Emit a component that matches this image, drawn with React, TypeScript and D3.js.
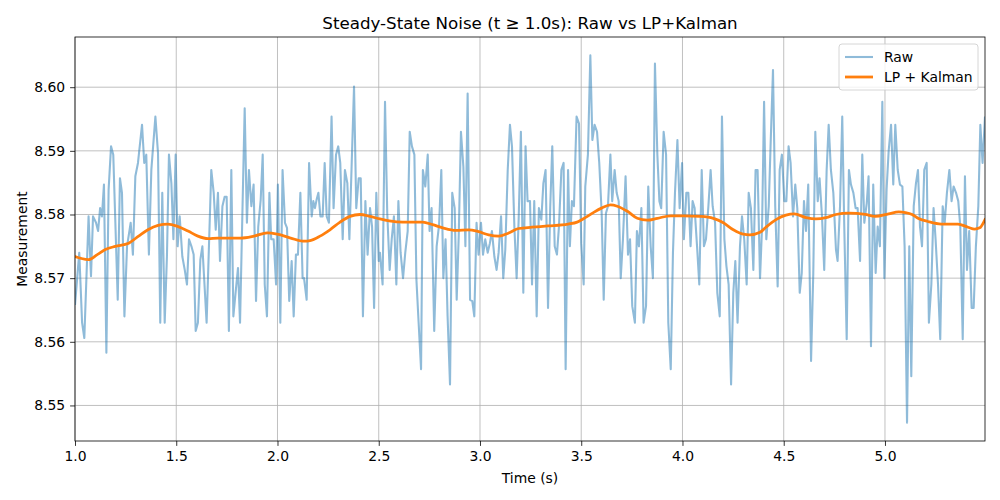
import * as React from "react";
import { useEffect, useRef } from "react";
import * as d3 from "d3";

// raw samples (time, value)
const rawT = [
  1.0, 1.021, 1.035, 1.046, 1.067, 1.079, 1.089, 1.104, 1.114, 1.124, 1.133, 1.143, 1.155, 1.166, 1.178, 1.189,
  1.211, 1.222, 1.232, 1.244, 1.257, 1.275, 1.286, 1.298, 1.311, 1.331, 1.342, 1.352, 1.365, 1.377, 1.397, 1.41,
  1.421, 1.431, 1.443, 1.454, 1.464, 1.476, 1.486, 1.497, 1.507, 1.517, 1.53, 1.542, 1.553, 1.563, 1.575, 1.586,
  1.596, 1.607, 1.619, 1.629, 1.65, 1.673, 1.685, 1.695, 1.706, 1.716, 1.728, 1.739, 1.749, 1.76, 1.772, 1.782,
  1.793, 1.805, 1.815, 1.826, 1.838, 1.849, 1.859, 1.871, 1.882, 1.894, 1.905, 1.917, 1.927, 1.937, 1.948, 1.96,
  1.969, 1.981, 1.993, 2.002, 2.014, 2.025, 2.037, 2.047, 2.058, 2.07, 2.08, 2.091, 2.101, 2.113, 2.124, 2.131,
  2.144, 2.156, 2.169, 2.177, 2.185, 2.193, 2.202, 2.212, 2.223, 2.233, 2.243, 2.254, 2.267, 2.277, 2.289, 2.3,
  2.31, 2.322, 2.333, 2.345, 2.355, 2.366, 2.378, 2.389, 2.401, 2.411, 2.422, 2.434, 2.445, 2.457, 2.467, 2.477,
  2.488, 2.5, 2.506, 2.519, 2.531, 2.542, 2.554, 2.564, 2.575, 2.587, 2.597, 2.608, 2.62, 2.631, 2.643, 2.653,
  2.664, 2.676, 2.686, 2.697, 2.709, 2.718, 2.73, 2.742, 2.751, 2.761, 2.774, 2.786, 2.798, 2.809, 2.819, 2.83,
  2.84, 2.852, 2.863, 2.875, 2.885, 2.895, 2.906, 2.918, 2.928, 2.939, 2.951, 2.962, 2.972, 2.983, 2.993, 3.005,
  3.015, 3.026, 3.038, 3.049, 3.059, 3.071, 3.082, 3.092, 3.104, 3.115, 3.125, 3.137, 3.148, 3.158, 3.17, 3.181,
  3.191, 3.202, 3.214, 3.225, 3.235, 3.247, 3.257, 3.268, 3.28, 3.291, 3.303, 3.313, 3.324, 3.336, 3.347, 3.357,
  3.369, 3.38, 3.39, 3.402, 3.413, 3.423, 3.435, 3.444, 3.454, 3.464, 3.477, 3.489, 3.5, 3.512, 3.52, 3.533,
  3.545, 3.555, 3.566, 3.578, 3.589, 3.601, 3.611, 3.622, 3.632, 3.644, 3.653, 3.665, 3.675, 3.685, 3.695, 3.706,
  3.719, 3.731, 3.741, 3.752, 3.765, 3.775, 3.785, 3.797, 3.808, 3.82, 3.831, 3.843, 3.854, 3.864, 3.876, 3.886,
  3.895, 3.907, 3.919, 3.93, 3.942, 3.953, 3.963, 3.975, 3.986, 3.998, 4.007, 4.019, 4.029, 4.04, 4.05, 4.06,
  4.072, 4.083, 4.095, 4.106, 4.116, 4.128, 4.139, 4.149, 4.161, 4.172, 4.184, 4.195, 4.207, 4.217, 4.228, 4.24,
  4.251, 4.261, 4.272, 4.284, 4.294, 4.305, 4.317, 4.327, 4.338, 4.35, 4.361, 4.371, 4.383, 4.393, 4.403, 4.414,
  4.426, 4.435, 4.447, 4.458, 4.47, 4.48, 4.491, 4.503, 4.513, 4.524, 4.534, 4.546, 4.557, 4.567, 4.579, 4.589,
  4.6, 4.61, 4.621, 4.635, 4.646, 4.656, 4.668, 4.677, 4.689, 4.7, 4.712, 4.722, 4.733, 4.745, 4.758, 4.766,
  4.778, 4.789, 4.799, 4.811, 4.822, 4.832, 4.844, 4.855, 4.865, 4.877, 4.888, 4.898, 4.91, 4.919, 4.931, 4.942,
  4.954, 4.964, 4.975, 4.987, 4.997, 5.008, 5.018, 5.03, 5.041, 5.051, 5.063, 5.074, 5.086, 5.097, 5.109, 5.12,
  5.13, 5.142, 5.153, 5.163, 5.173, 5.183, 5.194, 5.206, 5.217, 5.229, 5.24, 5.25, 5.262, 5.273, 5.285, 5.295,
  5.306, 5.318, 5.329, 5.339, 5.351, 5.362, 5.372, 5.384, 5.395, 5.405, 5.416, 5.428, 5.438, 5.449, 5.461, 5.471,
  5.482, 5.494,
];
const rawV = [
  8.5658, 8.574, 8.563, 8.5606, 8.5797, 8.5703, 8.5797, 8.5787, 8.5774, 8.581, 8.5797, 8.5847, 8.5583, 8.5839, 8.5907, 8.5894,
  8.5666, 8.5857, 8.5834, 8.564, 8.575, 8.5787, 8.5737, 8.586, 8.5881, 8.5941, 8.5881, 8.5894, 8.5737, 8.587, 8.5954, 8.5896,
  8.563, 8.5834, 8.563, 8.5734, 8.5894, 8.5849, 8.5761, 8.5894, 8.575, 8.5797, 8.5734, 8.5713, 8.569, 8.5761, 8.575, 8.5737,
  8.5617, 8.563, 8.5729, 8.575, 8.563, 8.587, 8.5834, 8.5776, 8.5834, 8.5727, 8.5813, 8.5828, 8.5828, 8.5617, 8.587, 8.564,
  8.5677, 8.5716, 8.563, 8.5792, 8.5967, 8.5787, 8.587, 8.5813, 8.5847, 8.5664, 8.5781, 8.5823, 8.5894, 8.569, 8.564, 8.5834,
  8.5761, 8.5761, 8.569, 8.5847, 8.563, 8.587, 8.5787, 8.5779, 8.5664, 8.5727, 8.564, 8.5737, 8.5737, 8.5834, 8.57, 8.57,
  8.5666, 8.5881, 8.5797, 8.5821, 8.581, 8.5823, 8.5834, 8.5797, 8.5797, 8.5881, 8.5797, 8.5787, 8.5954, 8.581, 8.5894, 8.5907,
  8.5881, 8.5761, 8.587, 8.5849, 8.5761, 8.5875, 8.6001, 8.581, 8.5857, 8.5857, 8.564, 8.5821, 8.5737, 8.581, 8.5781, 8.5653,
  8.5834, 8.5727, 8.574, 8.569, 8.5977, 8.5802, 8.5713, 8.5761, 8.5797, 8.569, 8.5821, 8.574, 8.57, 8.574, 8.5774, 8.593,
  8.5907, 8.5894, 8.5698, 8.563, 8.5557, 8.587, 8.5844, 8.5894, 8.5774, 8.581, 8.5617, 8.575, 8.5784, 8.587, 8.57, 8.5761,
  8.564, 8.5533, 8.5834, 8.581, 8.5666, 8.5766, 8.593, 8.5875, 8.575, 8.599, 8.5666, 8.5664, 8.564, 8.5787, 8.5737, 8.5787,
  8.5737, 8.5761, 8.574, 8.5755, 8.5774, 8.5734, 8.5713, 8.574, 8.5797, 8.57, 8.5745, 8.587, 8.5941, 8.5907, 8.5779, 8.57,
  8.5792, 8.593, 8.5677, 8.5907, 8.5821, 8.5821, 8.569, 8.5821, 8.564, 8.581, 8.5792, 8.5849, 8.587, 8.5653, 8.5813, 8.5907,
  8.575, 8.5737, 8.5781, 8.587, 8.5881, 8.5557, 8.587, 8.575, 8.5821, 8.5813, 8.5954, 8.5943, 8.5755, 8.569, 8.5844, 8.5894,
  8.605, 8.5917, 8.5941, 8.593, 8.5881, 8.5802, 8.5666, 8.5802, 8.5813, 8.5894, 8.5821, 8.587, 8.5834, 8.5821, 8.57, 8.5761,
  8.586, 8.5737, 8.5761, 8.5656, 8.563, 8.5774, 8.575, 8.581, 8.563, 8.5656, 8.5844, 8.575, 8.57, 8.6037, 8.5894, 8.5821,
  8.581, 8.593, 8.5894, 8.563, 8.5557, 8.574, 8.5834, 8.5917, 8.581, 8.5881, 8.5761, 8.5834, 8.5834, 8.575, 8.5821, 8.581,
  8.575, 8.569, 8.587, 8.575, 8.5761, 8.5813, 8.587, 8.5813, 8.5787, 8.5677, 8.564, 8.5954, 8.5761, 8.5719, 8.569, 8.5533,
  8.5677, 8.5727, 8.563, 8.575, 8.5797, 8.5761, 8.569, 8.5834, 8.581, 8.5713, 8.587, 8.587, 8.57, 8.5781, 8.5977, 8.5761,
  8.5813, 8.5907, 8.6027, 8.5813, 8.5687, 8.587, 8.5894, 8.5821, 8.5821, 8.5907, 8.5881, 8.5797, 8.5847, 8.581, 8.5677, 8.5708,
  8.5821, 8.5774, 8.5847, 8.557, 8.5708, 8.593, 8.5821, 8.5857, 8.5797, 8.5713, 8.587, 8.5941, 8.587, 8.5834, 8.5745, 8.5727,
  8.5813, 8.5954, 8.5781, 8.5604, 8.587, 8.5847, 8.5834, 8.581, 8.581, 8.5727, 8.5894, 8.5787, 8.5818, 8.586, 8.5593, 8.5847,
  8.5708, 8.5781, 8.575, 8.5977, 8.57, 8.5839, 8.5899, 8.5941, 8.5847, 8.5941, 8.587, 8.5847, 8.5844, 8.575, 8.5473, 8.575,
  8.5546, 8.5813, 8.5849, 8.587, 8.5781, 8.575, 8.587, 8.5881, 8.563, 8.569, 8.581, 8.5761, 8.569, 8.5604, 8.5813, 8.5787,
  8.5834, 8.587, 8.5821, 8.5844, 8.5834, 8.5821, 8.5781, 8.5604, 8.586, 8.5713, 8.5774, 8.5653, 8.5653, 8.575, 8.5813, 8.5941,
  8.5881, 8.5954,
];

// LP + Kalman estimate
const filtT = [
  1.0, 1.03, 1.067, 1.11, 1.15, 1.199, 1.265, 1.314, 1.36, 1.41, 1.459, 1.509, 1.558, 1.607, 1.657, 1.706,
  1.756, 1.818, 1.884, 1.95, 1.999, 2.065, 2.131, 2.161, 2.21, 2.259, 2.309, 2.358, 2.407, 2.457, 2.506, 2.552,
  2.618, 2.717, 2.766, 2.816, 2.882, 2.944, 2.993, 3.043, 3.092, 3.142, 3.191, 3.257, 3.336, 3.435, 3.48, 3.52,
  3.56, 3.6, 3.645, 3.678, 3.728, 3.777, 3.826, 3.876, 3.942, 4.007, 4.087, 4.152, 4.202, 4.251, 4.3, 4.333,
  4.383, 4.412, 4.462, 4.511, 4.552, 4.61, 4.659, 4.709, 4.758, 4.821, 4.903, 4.952, 5.018, 5.068, 5.101, 5.134,
  5.163, 5.212, 5.278, 5.36, 5.41, 5.443, 5.468, 5.494,
];
const filtV = [
  8.5734, 8.5731, 8.5729, 8.5737, 8.5745, 8.575, 8.5755, 8.5766, 8.5776, 8.5783, 8.5785, 8.5781, 8.5774, 8.5766, 8.5762, 8.5763,
  8.5763, 8.5763, 8.5766, 8.5771, 8.5769, 8.5763, 8.5758, 8.5759, 8.5766, 8.5776, 8.5788, 8.5797, 8.58, 8.5797, 8.5793, 8.579,
  8.5788, 8.5788, 8.5784, 8.5779, 8.5775, 8.5776, 8.5773, 8.5768, 8.5766, 8.5771, 8.5778, 8.578, 8.5782, 8.5785, 8.5788, 8.5795,
  8.5803, 8.581, 8.5815, 8.5813, 8.5805, 8.5794, 8.5791, 8.5794, 8.5798, 8.5798, 8.5797, 8.5794, 8.5787, 8.5776, 8.5769, 8.5768,
  8.5772, 8.578, 8.5792, 8.5799, 8.5801, 8.5795, 8.5793, 8.5795, 8.58, 8.5802, 8.58, 8.5797, 8.5801, 8.5804, 8.5803, 8.58,
  8.5794, 8.5789, 8.5785, 8.5785, 8.578, 8.5777, 8.5779, 8.5792,
];

const xTicks = [1.0, 1.5, 2.0, 2.5, 3.0, 3.5, 4.0, 4.5, 5.0];
const yTicks = [8.55, 8.56, 8.57, 8.58, 8.59, 8.6];
const seriesNames = ["Raw", "LP + Kalman"];
const seriesColors = ["#1f77b4", "#ff7f0e"];

const W = 1000;
const H = 500;
const margin = { top: 37, right: 15, bottom: 59, left: 75 };
const FONT = "DejaVu Sans, sans-serif";

const NoiseChart: React.FC = () => {
  const svgRef = useRef<SVGSVGElement | null>(null);

  useEffect(() => {
    const svg = d3.select(svgRef.current);
    svg.selectAll("*").remove();

    const raw = rawT.map((t, i) => ({ t, v: rawV[i] }));
    const filt = filtT.map((t, i) => ({ t, v: filtV[i] }));

    const [vMin, vMax] = d3.extent(rawV) as [number, number];
    const pad = (vMax - vMin) * 0.05;

    const x = d3
      .scaleLinear()
      .domain(d3.extent(rawT) as [number, number])
      .range([margin.left, W - margin.right]);
    const y = d3
      .scaleLinear()
      .domain([vMin - pad, vMax + pad])
      .range([H - margin.bottom, margin.top]);

    const x0 = margin.left;
    const x1 = W - margin.right;
    const y0 = H - margin.bottom;
    const y1 = margin.top;

    svg.append("rect").attr("width", W).attr("height", H).attr("fill", "#fff");

    // grid
    const grid = svg.append("g").attr("stroke", "#b0b0b0").attr("stroke-width", 0.8);
    xTicks.forEach((t) => {
      grid.append("line").attr("x1", x(t)).attr("x2", x(t)).attr("y1", y0).attr("y2", y1);
    });
    yTicks.forEach((t) => {
      grid.append("line").attr("x1", x0).attr("x2", x1).attr("y1", y(t)).attr("y2", y(t));
    });

    const clip = svg.append("clipPath").attr("id", "plotclip");
    clip.append("rect").attr("x", x0).attr("y", y1).attr("width", x1 - x0).attr("height", y0 - y1);

    const line = d3
      .line<{ t: number; v: number }>()
      .x((d) => x(d.t))
      .y((d) => y(d.v));

    const plot = svg.append("g").attr("clip-path", "url(#plotclip)");
    plot
      .append("path")
      .datum(raw)
      .attr("fill", "none")
      .attr("stroke", seriesColors[0])
      .attr("stroke-opacity", 0.5)
      .attr("stroke-width", 2.08)
      .attr("stroke-linejoin", "round")
      .attr("d", line);

    plot
      .append("path")
      .datum(filt)
      .attr("fill", "none")
      .attr("stroke", seriesColors[1])
      .attr("stroke-width", 2.78)
      .attr("stroke-linecap", "square")
      .attr("d", line.curve(d3.curveMonotoneX));

    // axes
    const xAxis = svg
      .append("g")
      .attr("transform", `translate(0,${y0})`)
      .call(d3.axisBottom(x).tickValues(xTicks).tickFormat(d3.format(".1f")).tickSizeOuter(0).tickSize(4.9).tickPadding(4.9));
    const yAxis = svg
      .append("g")
      .attr("transform", `translate(${x0},0)`)
      .call(d3.axisLeft(y).tickValues(yTicks).tickFormat(d3.format(".2f")).tickSizeOuter(0).tickSize(4.9).tickPadding(4.9));
    [xAxis, yAxis].forEach((g) => {
      g.select(".domain").remove();
      g.selectAll("line").attr("stroke", "#000").attr("stroke-width", 0.8);
      g.selectAll("text").attr("font-family", FONT).attr("font-size", 13.9).attr("fill", "#000");
    });

    // spines
    svg
      .append("rect")
      .attr("x", x0)
      .attr("y", y1)
      .attr("width", x1 - x0)
      .attr("height", y0 - y1)
      .attr("fill", "none")
      .attr("stroke", "#000")
      .attr("stroke-width", 0.8);

    svg
      .append("text")
      .attr("x", (x0 + x1) / 2)
      .attr("y", 29)
      .attr("text-anchor", "middle")
      .attr("font-family", FONT)
      .attr("font-size", 16.7)
      .text("Steady-State Noise (t \u2265 1.0s): Raw vs LP+Kalman");

    svg
      .append("text")
      .attr("x", (x0 + x1) / 2)
      .attr("y", 483)
      .attr("text-anchor", "middle")
      .attr("font-family", FONT)
      .attr("font-size", 13.9)
      .text("Time (s)");

    svg
      .append("text")
      .attr("transform", `translate(27,${(y0 + y1) / 2}) rotate(-90)`)
      .attr("text-anchor", "middle")
      .attr("font-family", FONT)
      .attr("font-size", 13.9)
      .text("Measurement");

    // legend
    const lg = svg.append("g");
    lg.append("rect")
      .attr("x", 839)
      .attr("y", 44)
      .attr("width", 139)
      .attr("height", 46)
      .attr("rx", 3)
      .attr("fill", "#fff")
      .attr("fill-opacity", 0.8)
      .attr("stroke", "#cccccc")
      .attr("stroke-width", 0.8);
    seriesNames.forEach((name, i) => {
      const cy = 57 + i * 20;
      lg.append("line")
        .attr("x1", 845)
        .attr("x2", 873)
        .attr("y1", cy)
        .attr("y2", cy)
        .attr("stroke", seriesColors[i])
        .attr("stroke-opacity", i === 0 ? 0.5 : 1)
        .attr("stroke-width", i === 0 ? 2.08 : 2.78);
      lg.append("text")
        .attr("x", 884)
        .attr("y", cy)
        .attr("dy", "0.35em")
        .attr("font-family", FONT)
        .attr("font-size", 13.9)
        .text(name);
    });
  }, []);

  return (
    <svg
      ref={svgRef}
      width={W}
      height={H}
      style={{ position: "absolute", left: 0, top: 0, display: "block" }}
    ></svg>
  );
};

export default function App() {
  return <NoiseChart />;
}
